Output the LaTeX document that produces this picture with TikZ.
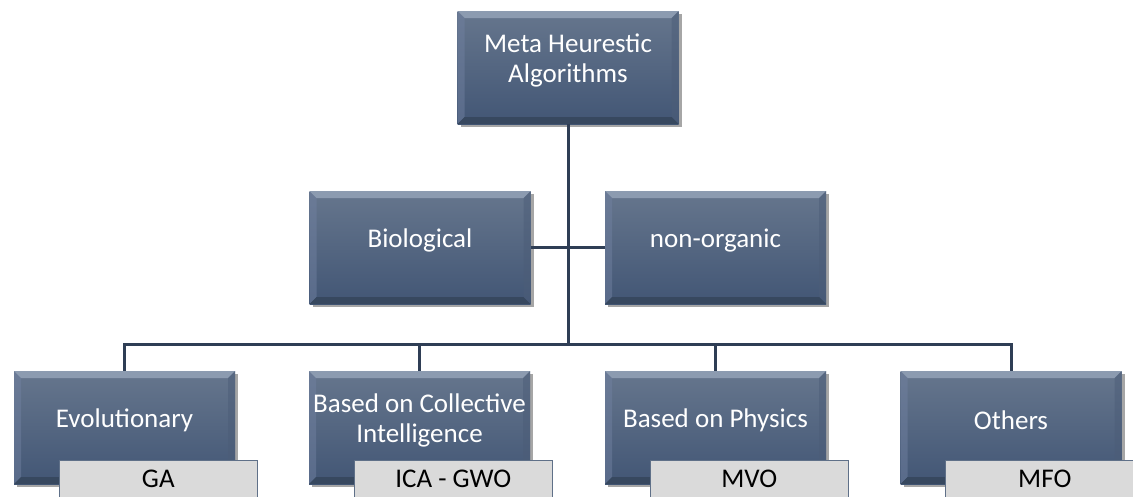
\documentclass[tikz,border=0pt]{standalone}
\usepackage{fontspec}
\setmainfont{Carlito}
\usetikzlibrary{shadows}

\definecolor{boxtop}{HTML}{66768D}
\definecolor{boxbot}{HTML}{425675}
\definecolor{bevtop}{HTML}{8C9BB0}
\definecolor{bevleft}{HTML}{7080A0}
\definecolor{bevright}{HTML}{4C5D78}
\definecolor{bevbot}{HTML}{37485F}
\definecolor{linkcol}{HTML}{2F3E55}
\definecolor{subfill}{HTML}{DADADA}
\definecolor{subline}{HTML}{5F7088}

\tikzset{
	mainbox/.style={rectangle, minimum width=221pt, minimum height=113pt, inner sep=0pt,
		top color=boxtop, bottom color=boxbot,
		drop shadow={shadow xshift=3pt, shadow yshift=-3pt, opacity=0.35, fill=black},
		path picture={
			\coordinate (nw) at (path picture bounding box.north west);
			\coordinate (ne) at (path picture bounding box.north east);
			\coordinate (sw) at (path picture bounding box.south west);
			\coordinate (se) at (path picture bounding box.south east);
			\fill[bevtop] (nw) -- (ne) -- ([shift={(-7pt,-7pt)}]ne) -- ([shift={(7pt,-7pt)}]nw) -- cycle;
			\fill[bevleft, opacity=.5] (nw) -- ([shift={(7pt,-7pt)}]nw) -- ([shift={(7pt,7pt)}]sw) -- (sw) -- cycle;
			\fill[bevright, opacity=.5] (ne) -- ([shift={(-7pt,-7pt)}]ne) -- ([shift={(-7pt,7pt)}]se) -- (se) -- cycle;
			\fill[bevbot] (sw) -- (se) -- ([shift={(-7pt,7pt)}]se) -- ([shift={(7pt,7pt)}]sw) -- cycle;
		}},
	boxlabel/.style={text=white, align=center, font=\fontsize{27}{30}\selectfont, yshift=7pt},
	subbox/.style={rectangle, draw=subline, line width=1pt, fill=subfill,
		minimum width=198pt, minimum height=37pt, inner sep=0pt, anchor=north west,
		font=\fontsize{27}{30}\selectfont},
	link/.style={draw=linkcol, line width=3pt}
}

\begin{document}
\begin{tikzpicture}[x=1pt, y=-1pt]
		\useasboundingbox (0,0) rectangle (1133,496);
		% boxes
		\node[mainbox, label={[boxlabel]center:Meta Heurestic\\Algorithms}] (meta) at (568,67.5) {};
		\node[mainbox, label={[boxlabel]center:Biological}] (bio) at (420,247.5) {};
		\node[mainbox, label={[boxlabel]center:non-organic}] (nonorg) at (715.5,247.5) {};
		\node[mainbox, label={[boxlabel]center:Evolutionary}] (evo) at (124.5,427.5) {};
		\node[mainbox, label={[boxlabel]center:Based on Collective\\Intelligence}] (coll) at (419.5,427.5) {};
		\node[mainbox, label={[boxlabel]center:Based on Physics}] (phys) at (715.5,427.5) {};
		\node[mainbox, label={[boxlabel]center:Others}] (oth) at (1011,427.5) {};
		% connectors
		\coordinate (hub) at (568,344);
		\draw[link] (meta.south) -- (hub);
		\draw[link] (bio.east) -- (nonorg.west);
		\foreach \b in {evo,coll,phys,oth}
			\draw[link] (hub) -| (\b.north);
		% algorithm tags
		\node[subbox] (ga) at ([shift={(45pt,24pt)}]evo.south west) {GA};
		\node[subbox] (icagwo) at ([shift={(45pt,24pt)}]coll.south west) {ICA - GWO};
		\node[subbox] (mvo) at ([shift={(45pt,24pt)}]phys.south west) {MVO};
		\node[subbox] (mfo) at ([shift={(45pt,24pt)}]oth.south west) {MFO};
	\end{tikzpicture}
\end{document}
